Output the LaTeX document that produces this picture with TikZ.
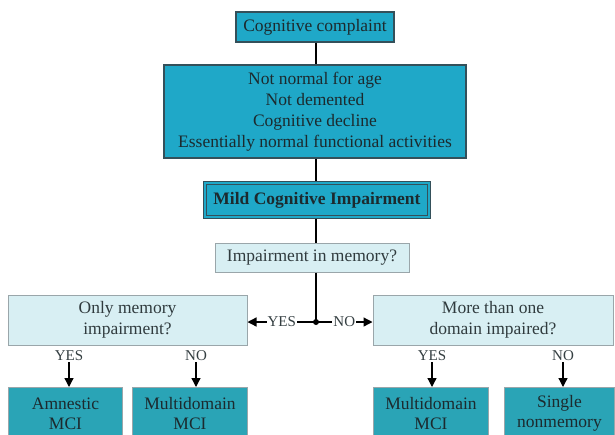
\documentclass[tikz,border=0pt]{standalone}
\usepackage{fontspec}
\setmainfont{Liberation Serif}
\usetikzlibrary{arrows.meta}
\definecolor{topteal}{HTML}{1FA8C8}
\definecolor{botteal}{HTML}{2AA4B6}
\definecolor{lightq}{HTML}{D8EFF3}
\definecolor{darkedge}{HTML}{34505A}
\definecolor{grayedge}{HTML}{9AA6AA}
\definecolor{txt}{HTML}{1C2A2E}
\tikzset{
  topbox/.style={draw=darkedge, line width=1.2pt, fill=topteal, text=txt, align=center, inner sep=0pt, font=\fontsize{17.5}{21}\selectfont},
  qbox/.style={draw=grayedge, line width=1pt, fill=lightq, text=txt!80!gray, align=center, inner sep=0pt, font=\fontsize{17.5}{21}\selectfont},
  resbox/.style={draw=grayedge, line width=1pt, fill=botteal, text=txt, align=center, inner sep=0pt, font=\fontsize{17.5}{20}\selectfont},
  conn/.style={line width=1.3pt, draw=black},
  arr/.style={conn, -{Triangle[length=9pt,width=9pt]}},
  lab/.style={font=\fontsize{15}{16}\selectfont, text=txt!75!gray, inner sep=1pt, fill=white}
}
\begin{document}
\begin{tikzpicture}[x=1pt,y=-1pt]
\useasboundingbox (0,0) rectangle (615,434);
\begin{scope}
\clip (0,0) rectangle (615,434);
\node[topbox, minimum width=158pt, minimum height=30pt] (cc) at (315,27) {Cognitive complaint};
\node[topbox, minimum width=302pt, minimum height=93pt] (crit) at (315,111.5) {Not normal for age\\Not demented\\Cognitive decline\\Essentially normal functional activities};
\node[topbox, draw=none, minimum width=226pt, minimum height=36pt] (mci) at (317,200) {\textbf{Mild Cognitive Impairment}};
\draw[darkedge, line width=1.2pt] (mci.north west) rectangle (mci.south east);
\draw[darkedge, line width=1.2pt] ([shift={(3pt,-3pt)}]mci.north west) rectangle ([shift={(-3pt,3pt)}]mci.south east);
\node[qbox, minimum width=194pt, minimum height=29pt] (imp) at (312,257.5) {Impairment in memory?};
\node[qbox, minimum width=239pt, minimum height=50pt] (only) at (127.5,320) {Only memory\\impairment?};
\node[qbox, minimum width=240pt, minimum height=50pt] (more) at (493,320) {More than one\\domain impaired?};
\node[resbox, minimum width=114pt, minimum height=52pt, anchor=north west] (amn) at (8,387) {Amnestic\\MCI};
\node[resbox, minimum width=115pt, minimum height=52pt, anchor=north west] (multi1) at (132,387) {Multidomain\\MCI};
\node[resbox, minimum width=115pt, minimum height=52pt, anchor=north west] (multi2) at (373,387) {Multidomain\\MCI};
\node[resbox, minimum width=110pt, minimum height=52pt, anchor=north west] (single) at (504,387) {Single\\nonmemory};
\coordinate (dot) at (316,322);
\draw[conn] (cc.south -| dot) -- (crit.north -| dot);
\draw[conn] (crit.south -| dot) -- (mci.north -| dot);
\draw[conn] (mci.south -| dot) -- (imp.north -| dot);
\draw[conn] (imp.south -| dot) -- (dot);
\fill (dot) circle (3pt);
\draw[arr] (dot) -- node[lab]{YES} (only.east |- dot);
\draw[arr] (dot) -- node[lab]{NO} (more.west |- dot);
\node[lab] (y1) at (69,356) {YES};
\node[lab] (n1) at (196,356) {NO};
\node[lab] (y2) at (432,356) {YES};
\node[lab] (n2) at (563,356) {NO};
\draw[arr] (y1.south) -- (amn.north -| y1);
\draw[arr] (n1.south) -- (multi1.north -| n1);
\draw[arr] (y2.south) -- (multi2.north -| y2);
\draw[arr] (n2.south) -- (single.north -| n2);
\end{scope}
\end{tikzpicture}
\end{document}
